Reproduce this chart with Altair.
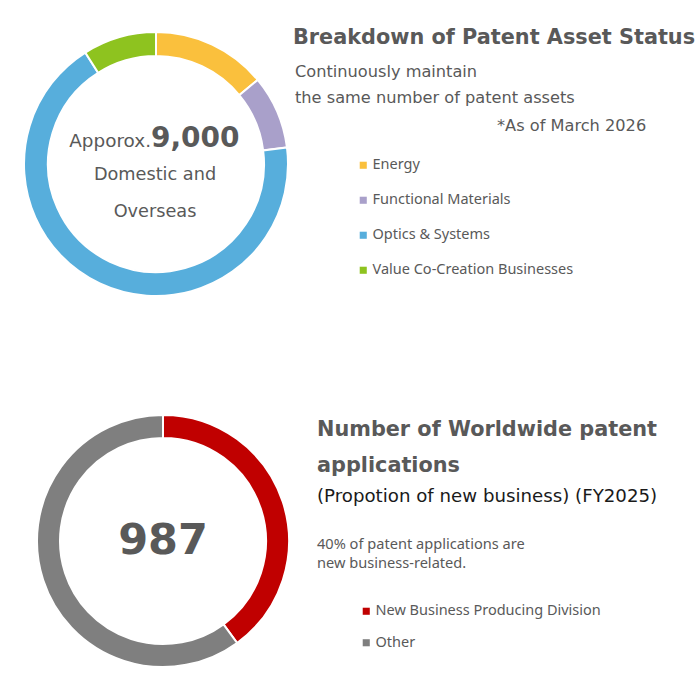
import altair as alt
import pandas as pd

# ---- data ----
asset_categories = ["Energy", "Functional Materials", "Optics & Systems", "Value Co-Creation Businesses"]
asset_shares = [14, 9, 68, 9]
asset_colors = ["#FAC03D", "#A9A0CA", "#57AEDC", "#8EC31F"]

app_categories = ["New Business Producing Division", "Other"]
app_shares = [40, 60]
app_colors = ["#C00000", "#7F7F7F"]

TXT = "#595959"
BOLD_FONT = "DejaVu Sans"
REG_FONT = "DejaVu Sans"
SMALL_FONT = "Noto Sans"

df_assets = pd.DataFrame({"category": asset_categories, "share": asset_shares,
                          "order": list(range(len(asset_categories)))})
df_apps = pd.DataFrame({"category": app_categories, "share": app_shares,
                        "order": list(range(len(app_categories)))})

top_donut = alt.Chart(df_assets).mark_arc(
    outerRadius=132, innerRadius=108, stroke="white", strokeWidth=2
).encode(
    theta=alt.Theta("share:Q", stack=True),
    order=alt.Order("order:Q"),
    color=alt.Color("category:N",
                    scale=alt.Scale(domain=asset_categories, range=asset_colors),
                    legend=alt.Legend(title=None, orient="none", legendX=356, legendY=158,
                                      symbolType="square", symbolSize=50, symbolStrokeWidth=0,
                                      labelFont=SMALL_FONT, labelFontSize=14.5, labelColor=TXT,
                                      labelOffset=2, rowPadding=20, labelLimit=400)),
    x=alt.value(156), y=alt.value(164),
)

bottom_donut = alt.Chart(df_apps).mark_arc(
    outerRadius=126, innerRadius=103, stroke="white", strokeWidth=2
).encode(
    theta=alt.Theta("share:Q", stack=True),
    order=alt.Order("order:Q"),
    color=alt.Color("category:N",
                    scale=alt.Scale(domain=app_categories, range=app_colors),
                    legend=alt.Legend(title=None, orient="none", legendX=359, legendY=604,
                                      symbolType="square", symbolSize=50, symbolStrokeWidth=0,
                                      labelFont=SMALL_FONT, labelFontSize=14.5, labelColor=TXT,
                                      labelOffset=2, rowPadding=16.5, labelLimit=400)),
    x=alt.value(163), y=alt.value(541),
)


def label(text, x, y, size, bold=False, font=REG_FONT, align="left", color=TXT, baseline="middle"):
    return alt.Chart(pd.DataFrame({"t": [text]})).mark_text(
        align=align, baseline=baseline, font=font, fontSize=size,
        fontWeight="bold" if bold else "normal", color=color
    ).encode(text="t:N", x=alt.value(x), y=alt.value(y))


texts = [
    # top panel
    label("Breakdown of Patent Asset Status", 293, 38, 20.8, bold=True, font=BOLD_FONT),
    label("Continuously maintain", 295, 72, 16.2),
    label("the same number of patent assets", 295, 98, 16.2),
    label("*As of March 2026", 497, 126, 16.2),
    label("Apporox.", 151, 147, 18.4, align="right", baseline="alphabetic"),
    label("9,000", 151, 147, 28, bold=True, baseline="alphabetic"),
    label("Domestic and", 155, 175, 17.7, align="center"),
    label("Overseas", 155, 212, 17.7, align="center"),
    # bottom panel
    label("Number of Worldwide patent", 317, 430, 20.8, bold=True, font=BOLD_FONT),
    label("applications", 317, 466, 20.8, bold=True, font=BOLD_FONT),
    label("(Propotion of new business) (FY2025)", 317, 497, 18.2, color="#1A1A1A"),
    label("40% of patent applications are", 317, 545, 14.6, font=SMALL_FONT),
    label("new business-related.", 317, 564, 14.6, font=SMALL_FONT),
    label("987", 163, 541, 43, bold=True, align="center"),
]

chart = alt.layer(top_donut, bottom_donut, *texts).resolve_scale(
    color="independent"
).properties(
    width=700, height=700, padding=0, autosize="none"
).configure_view(stroke=None)

chart.save("out.html", embed_options={"renderer": "svg", "actions": False})
